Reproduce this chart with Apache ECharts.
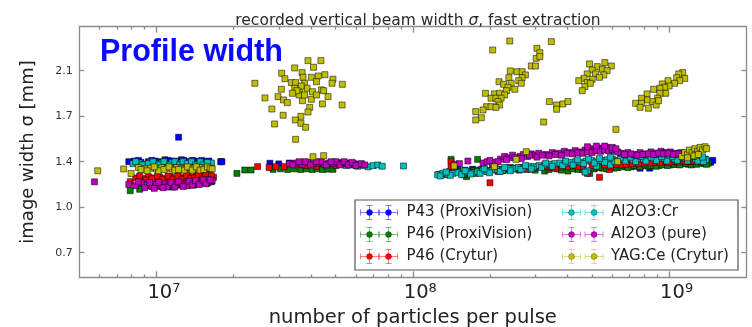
<!DOCTYPE html>
<html><head><meta charset="utf-8">
<script src="https://cdn.jsdelivr.net/npm/echarts@6/dist/echarts.min.js"></script>
<style>html,body{margin:0;padding:0;background:#fff}#c{width:752px;height:327px}</style>
</head><body><div id="c"></div>
<script>
// ---- data: [particles per pulse in millions, image width sigma in mm] ----
const seriesNames = ['P43 (ProxiVision)', 'P46 (ProxiVision)', 'P46 (Crytur)', 'Al2O3:Cr', 'Al2O3 (pure)', 'YAG:Ce (Crytur)'];

const p43ProxiVision = [
  [7.8,1.40],[8.2,1.405],[8.7,1.395],[9.3,1.40],[9.9,1.405],[10.5,1.40],[11.1,1.41],[11.7,1.405],[12.2,1.40],[12.8,1.41],[13.4,1.40],[14.0,1.405],[14.6,1.40],[15.2,1.395],[15.8,1.40],[12.2,1.588],[17.8,1.40],[16.2,1.346],
  [8.5,1.41],[9.6,1.41],[10.8,1.415],[12.5,1.415],[13.8,1.41],[15.0,1.41],[16.0,1.405],
  [18.0,1.40],[27.7,1.388],[30.0,1.383],[33,1.39],
  [139,1.323],[171,1.342],[150,1.37],[190,1.345],[240,1.355],[300,1.36],[330,1.375],[420,1.37],[510,1.38],[560,1.395],[620,1.40],[680,1.438],[700,1.42],[770,1.35],[840,1.35],[880,1.395],[950,1.40],[1000,1.41],[1080,1.405],[1150,1.41],[1220,1.405],[1290,1.415],[1360,1.41],[1420,1.405],[1480,1.41],[1450,1.395],[1380,1.42],
  [160,1.335],[210,1.34],[270,1.35],[360,1.36],[460,1.375],[540,1.38],[600,1.39],[650,1.43],[720,1.43],[800,1.385],[920,1.39],[1040,1.40],[1100,1.395],[1200,1.40],[1320,1.405]
];
const p46ProxiVision = [
  [7.9,1.177],[8.6,1.188],[9.3,1.215],[9.8,1.205],[10.4,1.21],[11,1.215],[11.6,1.205],[12.2,1.22],[12.8,1.215],[13.4,1.225],[14,1.22],[14.6,1.23],[15.2,1.238],[15.8,1.235],[16.4,1.245],
  [20.6,1.31],[22.1,1.336],[23.4,1.336],[28.5,1.341],[30.5,1.345],[32.5,1.34],[34.5,1.345],[36.5,1.34],[38.5,1.345],[40.5,1.34],[42.5,1.345],[44.5,1.34],[46.5,1.343],[48.8,1.341],
  [141,1.418],[179,1.418],[162,1.285],[135,1.31],[150,1.325],[172,1.33],[195,1.33],[215,1.325],[235,1.34],[260,1.335],[290,1.345],[327,1.328],[365,1.345],[403,1.328],[440,1.34],[470,1.323],[490,1.31],[510,1.345],[550,1.35],[590,1.36],[630,1.355],[670,1.365],[710,1.36],[750,1.365],[790,1.37],[830,1.365],[870,1.375],[910,1.37],[960,1.38],[1010,1.375],[1070,1.38],[1130,1.385],[1190,1.38],[1250,1.385],[1310,1.39],[1370,1.385],[1420,1.388],
  [180,1.335],[220,1.34],[250,1.345],[300,1.335],[340,1.34],[380,1.335],[420,1.345],[460,1.34],[530,1.355],[570,1.345],[610,1.35],[650,1.36],[690,1.355],[730,1.37],[770,1.36],[810,1.375],[850,1.37],[890,1.365],[935,1.375],[985,1.37],[1040,1.38],[1100,1.375],[1160,1.385],[1220,1.375],[1280,1.38],[1340,1.39],[1400,1.38]
];
const p46Crytur = [
  [7.9,1.246],[8.3,1.275],[8.8,1.27],[9.3,1.285],[9.8,1.275],[10.3,1.28],[10.8,1.27],[11.3,1.285],[11.8,1.275],[12.3,1.28],[12.8,1.27],[13.3,1.285],[13.8,1.28],[14.3,1.29],[14.8,1.28],[15.3,1.29],[15.8,1.285],[16.2,1.295],[16.7,1.28],
  [8.6,1.29],[9.1,1.26],[9.6,1.27],[10.1,1.29],[10.6,1.265],[11.1,1.29],[11.6,1.265],[12.1,1.29],[12.6,1.265],[13.1,1.295],[13.6,1.27],[14.1,1.275],[14.6,1.30],[15.1,1.27],[15.6,1.30],[16.4,1.29],
  [24.8,1.362],[27.5,1.355],[29.2,1.362],[31.5,1.362],[35,1.375],[38,1.37],[42,1.365],[46,1.375],[50,1.37],
  [127,1.303],[133,1.30],[141,1.40],[141,1.362],[200,1.238],[158,1.30],[175,1.31],[185,1.34],[205,1.345],[225,1.33],[250,1.35],[280,1.34],[310,1.36],[345,1.355],[380,1.36],[420,1.37],[460,1.36],[480,1.31],[535,1.28],[520,1.36],[585,1.34],[593,1.362],[650,1.375],[720,1.385],[800,1.39],[880,1.395],[960,1.40],[1040,1.40],[1120,1.405],[1200,1.40],[1300,1.41],
  [145,1.33],[165,1.32],[195,1.33],[240,1.34],[265,1.355],[295,1.35],[330,1.365],[360,1.35],[400,1.36],[440,1.365],[500,1.37],[560,1.375],[620,1.38],[680,1.38],[760,1.385],[840,1.39],[920,1.395],[1000,1.395],[1080,1.40],[1160,1.40],[1250,1.405],[1350,1.40]
];
const al2o3Cr = [
  [8.1,1.385],[8.6,1.39],[9.0,1.38],[9.5,1.395],[10,1.385],[10.5,1.39],[11,1.38],[11.5,1.395],[12,1.385],[12.5,1.39],[13,1.38],[13.5,1.39],[14,1.385],[14.5,1.38],[15,1.39],[15.5,1.385],[16,1.38],[9.8,1.375],[12.8,1.375],[16.4,1.39],
  [8.3,1.40],[8.8,1.375],[9.3,1.385],[9.7,1.40],[10.2,1.375],[10.7,1.40],[11.3,1.375],[11.8,1.40],[12.3,1.375],[12.7,1.40],[13.2,1.385],[13.7,1.40],[14.2,1.375],[14.8,1.40],[15.2,1.375],[15.8,1.395],
  [55,1.37],[58,1.375],[61,1.365],[64,1.372],[67,1.36],[70,1.37],[73,1.375],[76,1.365],[92,1.367],
  [125,1.30],[131,1.31],[137,1.303],[143,1.31],[150,1.315],[157,1.308],[164,1.32],[171,1.313],[179,1.322],[187,1.33],[195,1.325],[204,1.335],[214,1.34],[224,1.335],[235,1.35],[246,1.345],[258,1.355],[270,1.35],[283,1.365],[297,1.36],[311,1.37],[326,1.375],[342,1.38],[358,1.385],[375,1.39],[393,1.385],[412,1.395],[432,1.40],[453,1.395],[475,1.405],[498,1.41],[522,1.40],[547,1.41],[573,1.415],[600,1.42],[629,1.41],[659,1.42],[690,1.425],[723,1.415],[758,1.425],[794,1.42],[832,1.43],[872,1.42],[914,1.43],[958,1.425],[1004,1.43],[1052,1.42],[1102,1.43],[1155,1.425],[1210,1.43],[1268,1.42],[1329,1.425],[1392,1.415],[480,1.33],[470,1.32],[590,1.375],[520,1.365],
  [128,1.29],[140,1.295],[155,1.30],[168,1.305],[183,1.31],[199,1.315],[219,1.325],[240,1.33],[264,1.34],[290,1.345],[318,1.355],[350,1.365],[384,1.37],[422,1.375],[464,1.385],[510,1.39],[560,1.395],[614,1.40],[674,1.405],[740,1.40],[812,1.405],[892,1.41],[980,1.405],[1076,1.41],[1180,1.405],[1295,1.405],[1360,1.40],
  [135,1.32],[160,1.33],[190,1.345],[228,1.355],[275,1.37],[330,1.39],[395,1.405],[440,1.415],[485,1.42],[535,1.425],[590,1.435],[645,1.43],[705,1.435],[775,1.44],[850,1.435],[935,1.44],[1030,1.44],[1130,1.435],[1240,1.44],[1350,1.435]
];
const al2o3Pure = [
  [5.73,1.245],[7.8,1.225],[8.3,1.215],[8.8,1.235],[9.2,1.22],[9.6,1.21],[10,1.225],[10.4,1.215],[10.8,1.23],[11.2,1.22],[11.6,1.23],[12,1.225],[12.5,1.235],[13,1.23],[13.5,1.24],[14,1.235],[14.5,1.245],[15,1.24],[15.5,1.25],[16,1.245],[16.5,1.255],[9.0,1.20],[11,1.205],[13.2,1.215],[15.8,1.265],
  [8.5,1.245],[9.4,1.24],[9.8,1.195],[10.2,1.24],[10.6,1.20],[11.4,1.24],[11.8,1.205],[12.2,1.245],[12.7,1.21],[13.4,1.25],[13.8,1.22],[14.2,1.255],[14.7,1.225],[15.2,1.26],[15.6,1.23],[16.2,1.26],
  [33,1.385],[35,1.39],[37,1.38],[39,1.395],[41,1.385],[43,1.39],[45,1.38],[47,1.39],[49,1.385],[51,1.395],[53,1.385],[55,1.39],[57,1.38],[59,1.385],[62,1.38],[38,1.40],[44,1.40],[50,1.40],
  [34,1.375],[36,1.40],[40,1.375],[42,1.40],[46,1.375],[48,1.40],[52,1.375],[54,1.40],[56,1.375],[58,1.395],[60,1.37],[63,1.385],[65,1.375],
  [145,1.38],[152,1.385],[164,1.405],[188,1.39],[195,1.40],[205,1.38],[210,1.395],[220,1.42],[228,1.44],[236,1.43],[245,1.45],[255,1.425],[262,1.44],[270,1.455],[280,1.44],[290,1.46],[300,1.45],[310,1.465],[330,1.455],[350,1.47],[370,1.465],[390,1.48],[410,1.47],[430,1.485],[450,1.475],[470,1.49],[490,1.50],[510,1.485],[530,1.505],[550,1.495],[570,1.51],[590,1.50],[610,1.485],[650,1.465],[690,1.47],[730,1.455],[770,1.47],[810,1.46],[850,1.475],[890,1.465],[930,1.48],[970,1.47],[1010,1.475],[1060,1.465],[1110,1.47],[1130,1.46],
  [200,1.41],[215,1.40],[232,1.415],[250,1.43],[265,1.425],[285,1.45],[305,1.435],[320,1.45],[340,1.445],[360,1.455],[380,1.45],[400,1.465],[420,1.46],[440,1.47],[460,1.465],[480,1.475],[500,1.47],[520,1.485],[540,1.48],[560,1.49],[580,1.485],[600,1.495],[630,1.475],[670,1.455],[710,1.46],[750,1.45],[790,1.455],[830,1.46],[870,1.455],[910,1.465],[950,1.46],[990,1.465],[1040,1.455],[1090,1.46],
  [480,1.515],[520,1.52],[560,1.52],[600,1.51],[620,1.50]
];
const yagCeCrytur = [
  [5.9,1.33],[7.45,1.344],[7.96,1.31],[8.5,1.355],[9,1.345],[9.5,1.35],[10,1.345],[10.5,1.355],[11,1.35],[11.5,1.345],[12,1.355],[12.5,1.35],[13,1.345],[13.5,1.355],[14,1.35],[14.5,1.345],[15,1.355],[15.5,1.35],[10.2,1.33],[12.8,1.335],
  [8.7,1.34],[9.2,1.33],[9.8,1.36],[10.7,1.34],[11.2,1.36],[11.8,1.335],[12.2,1.34],[13.2,1.36],[13.8,1.335],[14.3,1.36],[14.8,1.335],[15.3,1.34],[15.8,1.36],[16.2,1.35],[16.5,1.345],
  [39,2.177],[43.8,2.177],[34.6,2.121],[41,2.126],[30.8,2.08],[37,2.085],[31.7,2.038],[37.3,2.049],[40.2,2.049],[42.8,2.059],[45.4,2.069],[48.8,2.034],[24.2,2.003],[33.6,2.008],[34.9,2.008],[37.8,2.003],[42.1,2.015],[48.4,2.003],[53.1,1.995],[30.7,1.957],[34.6,1.965],[38.7,1.965],[44,1.952],[36.2,1.931],[40.6,1.938],[44.9,1.946],[26.5,1.89],[29.8,1.90],[31.3,1.875],[37.1,1.869],[40.2,1.88],[46.7,1.90],[36,1.913],[32.4,1.854],[44.4,1.844],[53,1.836],[39.6,1.818],[28.2,1.805],[39,1.782],[31.2,1.757],[36.6,1.749],[34.8,1.721],[28.9,1.69],[36.6,1.695],[38.2,1.665],[34.9,1.572],[36.7,1.982],[35.3,1.946],[37.8,1.913],[33.9,1.926],[42.1,1.913],
  [40.8,1.438],[44.9,1.446],
  [239,2.328],[205,2.259],[305,2.272],[347,2.323],[313,2.238],[303,2.195],[313,2.208],[290,2.136],[301,2.136],[240,2.098],[255,2.092],[267,2.092],[275,2.067],[237,2.046],[267,2.046],[259,2.023],[265,2.003],[217,2.015],[226,1.995],[242,2.003],[235,1.972],[250,1.957],[232,1.946],[192,1.926],[208,1.921],[218,1.926],[228,1.913],[202,1.888],[211,1.888],[221,1.888],[215,1.862],[218,1.836],[194,1.823],[202,1.823],[211,1.818],[188,1.798],[176,1.785],[185,1.738],[176,1.721],[341,1.862],[364,1.836],[364,1.803],[385,1.844],[403,1.862],[324,1.705],
  [489,2.152],[561,2.162],[524,2.131],[595,2.136],[501,2.105],[549,2.111],[573,2.10],[479,2.075],[516,2.075],[556,2.067],[465,2.041],[501,2.034],[535,2.049],[444,2.023],[479,2.008],[469,1.977],[458,1.946],[493,2.003],[620,1.649],
  [1130,2.085],[1090,2.075],[1150,2.041],[1070,2.046],[1100,2.023],[1050,2.003],[990,2.023],[1000,1.982],[940,1.998],[960,1.972],[920,1.965],[870,1.957],[970,1.926],[920,1.926],[900,1.888],[860,1.862],[820,1.921],[820,1.875],[780,1.888],[740,1.849],[780,1.849],[770,1.818],[830,1.811],[890,1.836],[910,1.869],
  [145,1.367],[208,1.362],[253,1.418],[277,1.477],[630,1.40],[1120,1.44],[1150,1.47],[1180,1.455],[1200,1.49],[1230,1.47],[1260,1.50],[1290,1.48],[1320,1.51],[1350,1.49],[1380,1.515],[1400,1.50],[1250,1.445],[1300,1.455],[1180,1.43]
];

const xMajorTicks = [1e7, 1e8, 1e9];
const xMinorTicks = [6e6,7e6,8e6,9e6, 2e7,3e7,4e7,5e7,6e7,7e7,8e7,9e7, 2e8,3e8,4e8,5e8,6e8,7e8,8e8,9e8];
const yTickValues = [0.7, 1.05, 1.4, 1.75, 2.1];
const yTickLabels = ['0.7', '1.0', '1.4', '1.7', '2.1'];

const chartTitle = 'recorded vertical beam width {i|σ}, fast extraction';
const xAxisTitle = 'number of particles per pulse';
const yAxisTitle = 'image width σ [mm]';
const overlayText = 'Profile width';

// ---- styling ----
const colors = ['#0000ff', '#008000', '#ff0000', '#00bfbf', '#bf00bf', '#bfbf00'];
const allData = [p43ProxiVision, p46ProxiVision, p46Crytur, al2o3Cr, al2o3Pure, yagCeCrytur];
const FONT = 'DejaVu Sans';
const frame = { color: '#8a8a8a', width: 1.3 };
const X_MIN = 5e6, X_MAX = 2e9, Y_MIN = 0.511, Y_MAX = 2.438;

const chart = echarts.init(document.getElementById('c'), null, { renderer: 'canvas' });

function xAx(pos, ticks, len, showLine, labels) {
  return {
    type: 'log', logBase: 10, min: X_MIN, max: X_MAX, position: pos, gridIndex: 0,
    axisLine: { show: showLine, onZero: false, lineStyle: frame },
    axisTick: { show: true, inside: true, length: len, customValues: ticks, lineStyle: frame },
    axisLabel: labels || { show: false },
    splitLine: { show: false }, minorTick: { show: false }, minorSplitLine: { show: false }
  };
}

const xLabel = {
  show: true, customValues: xMajorTicks, margin: 5,
  formatter: v => '{b|10}{s|' + Math.round(Math.log10(v)) + '}',
  padding: [0, 0, 0, 15],
  rich: {
    b: { fontSize: 19.5, fontFamily: FONT, color: '#222', lineHeight: 21 },
    s: { fontSize: 13, fontFamily: FONT, color: '#222', verticalAlign: 'top', lineHeight: 21, padding: [0, 0, 8, 0] }
  }
};

const xAxes = [
  Object.assign(xAx('bottom', xMajorTicks, 6, true, xLabel), {
    name: xAxisTitle, nameLocation: 'middle', nameGap: 26,
    nameTextStyle: { fontSize: 19.5, fontFamily: FONT, color: '#222' }
  }),
  xAx('bottom', xMinorTicks, 3, false),
  xAx('top', xMajorTicks, 6, true),
  xAx('top', xMinorTicks, 3, false)
];

const yAxes = [
  {
    type: 'value', min: Y_MIN, max: Y_MAX, position: 'left',
    axisLine: { show: true, onZero: false, lineStyle: frame },
    axisTick: { show: true, inside: true, length: 5, customValues: yTickValues, lineStyle: frame },
    axisLabel: {
      show: true, customValues: yTickValues, margin: 6.5, fontSize: 11, fontFamily: FONT, color: '#333',
      formatter: v => { const i = yTickValues.findIndex(t => Math.abs(t - v) < 1e-6); return i >= 0 ? yTickLabels[i] : ''; }
    },
    splitLine: { show: false },
    name: yAxisTitle, nameLocation: 'middle', nameGap: 42,
    nameTextStyle: { fontSize: 18, fontFamily: FONT, color: '#222' }
  },
  {
    type: 'value', min: Y_MIN, max: Y_MAX, position: 'right',
    axisLine: { show: true, onZero: false, lineStyle: frame },
    axisTick: { show: true, inside: true, length: 5, customValues: yTickValues, lineStyle: frame },
    axisLabel: { show: false }, splitLine: { show: false }
  }
];

const series = allData.map((arr, i) => ({
  name: seriesNames[i], type: 'scatter', xAxisIndex: 0, yAxisIndex: 0,
  symbol: 'rect', symbolSize: 6,
  itemStyle: { color: colors[i], opacity: 1, borderColor: 'rgba(0,0,0,0.75)', borderWidth: 0.7 },
  emphasis: { disabled: true }, silent: true,
  data: arr.map(p => [p[0] * 1e6, p[1]])
}));

// ---- legend drawn as graphic (errorbar style markers, two per entry) ----
function fade(hex, a) {
  const r = parseInt(hex.slice(1, 3), 16), g = parseInt(hex.slice(3, 5), 16), b = parseInt(hex.slice(5, 7), 16);
  return `rgba(${r},${g},${b},${a})`;
}
function errMarker(cx, cy, color) {
  const c = fade(color, 0.5), lw = 1;
  const L = (x1, y1, x2, y2) => ({ type: 'line', shape: { x1, y1, x2, y2 }, style: { stroke: c, lineWidth: lw } });
  return [
    L(cx - 9, cy, cx + 9, cy), L(cx - 9, cy - 3, cx - 9, cy + 3), L(cx + 9, cy - 3, cx + 9, cy + 3),
    L(cx, cy - 7, cx, cy + 7), L(cx - 3, cy - 7, cx + 3, cy - 7), L(cx - 3, cy + 7, cx + 3, cy + 7),
    { type: 'circle', shape: { cx, cy, r: 3 }, style: { fill: color, stroke: 'rgba(0,0,0,0.5)', lineWidth: 0.5 } }
  ];
}
const legendBox = { x: 355, y: 200, w: 383, h: 70 };
const legendRows = [212.5, 234.5, 256.5];
const legendCols = [{ m1: 369.5, m2: 388.5, tx: 406.5 }, { m1: 571.5, m2: 594, tx: 611 }];
const legendEls = [{ type: 'rect', shape: { x: legendBox.x, y: legendBox.y, width: legendBox.w, height: legendBox.h }, style: { fill: '#fff', stroke: '#555', lineWidth: 1.2 } }];
seriesNames.forEach((nm, i) => {
  const col = legendCols[Math.floor(i / 3)], cy = legendRows[i % 3];
  legendEls.push(...errMarker(col.m1, cy, colors[i]), ...errMarker(col.m2, cy, colors[i]));
  legendEls.push({ type: 'text', x: col.tx, y: cy, style: { text: nm, fontSize: 15, fontFamily: FONT, fill: '#222', align: 'left', verticalAlign: 'middle' } });
});

chart.setOption({
  animation: false,
  backgroundColor: '#fff',
  title: {
    text: chartTitle, left: 413, top: 8, textAlign: 'center',
    textStyle: { fontSize: 15.5, fontWeight: 'normal', fontFamily: FONT, color: '#2a2a2a',
      rich: { i: { fontSize: 15.5, fontStyle: 'italic', fontFamily: FONT, color: '#2a2a2a' } } }
  },
  grid: { left: 79.3, right: 5.7, top: 26.7, bottom: 49.7, containLabel: false, outerBoundsMode: 'none' },
  xAxis: xAxes,
  yAxis: yAxes,
  series: series,
  graphic: [
    { type: 'text', x: 100, y: 53, z: 100, style: { text: overlayText, fontSize: 30.5, fontWeight: 'bold', fontFamily: 'Liberation Sans', fill: '#0a0aff', align: 'left', verticalAlign: 'middle' } },
    { type: 'group', z: 100, children: legendEls }
  ]
});
</script>
</body></html>
